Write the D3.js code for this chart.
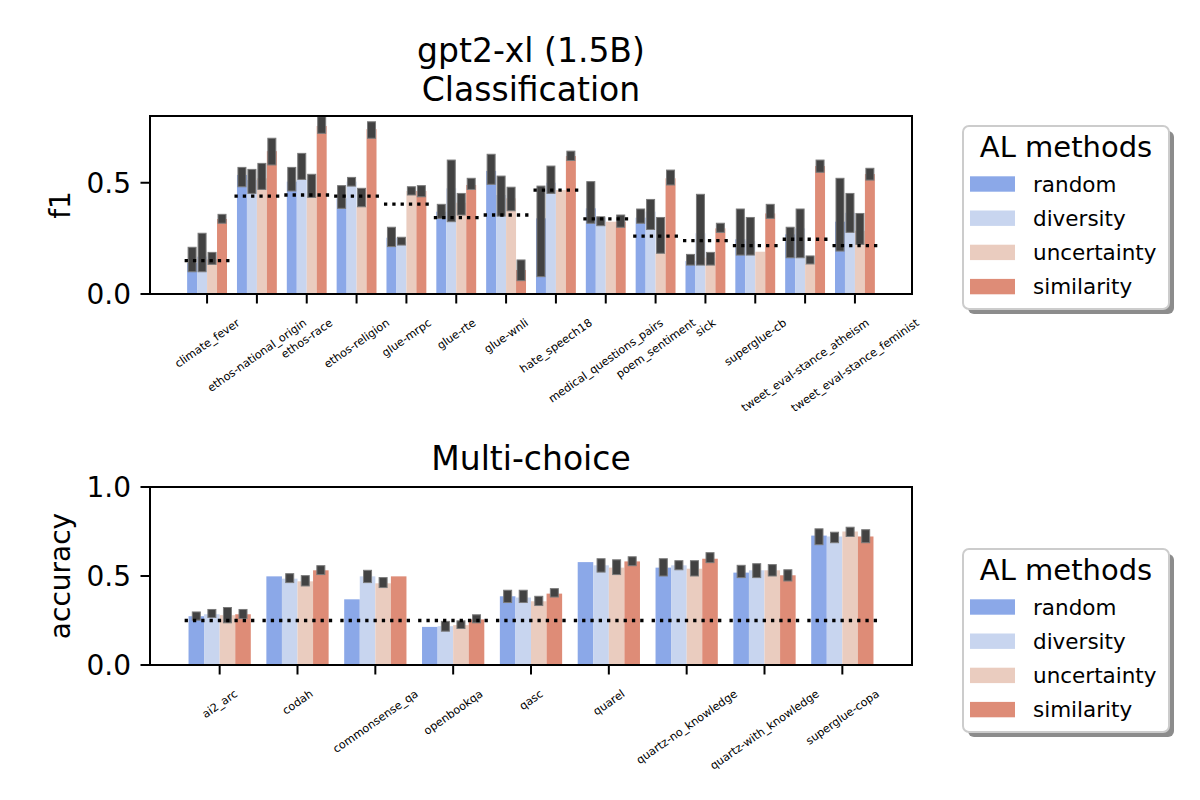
<!DOCTYPE html>
<html>
<head>
<meta charset="utf-8">
<script src="https://cdn.jsdelivr.net/npm/d3@7"></script>
<style>
  body { margin: 0; background: #fff; }
  svg text { font-family: "DejaVu Sans", sans-serif; fill: #000; }
</style>
</head>
<body>
<svg id="chart" width="1200" height="800"></svg>
<script>
// AL methods (legend order)
const methods = ['random', 'diversity', 'uncertainty', 'similarity'];
const methodColors = ['#8ba8e8', '#c8d5ef', '#eaccbf', '#de8c77'];

// Classification panel
const clsTasks = ['climate_fever', 'ethos-national_origin', 'ethos-race', 'ethos-religion', 'glue-mrpc',
  'glue-rte', 'glue-wnli', 'hate_speech18', 'medical_questions_pairs', 'poem_sentiment', 'sick',
  'superglue-cb', 'tweet_eval-stance_atheism', 'tweet_eval-stance_feminist'];
const clsRandom      = [0.139, 0.535, 0.505, 0.43, 0.253, 0.37, 0.553, 0.34, 0.385, 0.343, 0.148, 0.246, 0.268, 0.325];
const clsRandomLo    = [0.10, 0.482, 0.463, 0.385, 0.213, 0.34, 0.493, 0.078, 0.318, 0.318, 0.13, 0.175, 0.163, 0.193];
const clsRandomHi    = [0.21, 0.569, 0.569, 0.487, 0.30, 0.403, 0.628, 0.485, 0.505, 0.382, 0.178, 0.382, 0.30, 0.52];
const clsDiversity   = [0.168, 0.512, 0.515, 0.505, 0.235, 0.475, 0.445, 0.50, 0.344, 0.37, 0.273, 0.238, 0.295, 0.365];
const clsDiversityLo = [0.10, 0.452, 0.515, 0.485, 0.22, 0.325, 0.35, 0.452, 0.307, 0.29, 0.13, 0.175, 0.163, 0.277];
const clsDiversityHi = [0.273, 0.56, 0.632, 0.524, 0.255, 0.602, 0.53, 0.575, 0.347, 0.425, 0.448, 0.344, 0.382, 0.452];
const clsUncert      = [0.156, 0.52, 0.44, 0.392, 0.463, 0.41, 0.43, 0.467, 0.325, 0.183, 0.163, 0.19, 0.135, 0.284];
const clsUncertLo    = [0.133, 0.47, 0.434, 0.392, 0.445, 0.355, 0.374, 0.467, 0.325, 0.183, 0.13, 0.19, 0.135, 0.223];
const clsUncertHi    = [0.187, 0.587, 0.538, 0.475, 0.482, 0.452, 0.48, 0.467, 0.325, 0.344, 0.187, 0.19, 0.171, 0.362];
const clsSimilar     = [0.337, 0.642, 0.755, 0.741, 0.463, 0.49, 0.108, 0.62, 0.325, 0.52, 0.295, 0.362, 0.575, 0.539];
const clsSimilarLo   = [0.318, 0.58, 0.722, 0.70, 0.437, 0.47, 0.06, 0.60, 0.30, 0.49, 0.277, 0.34, 0.547, 0.512];
const clsSimilarHi   = [0.358, 0.70, 0.797, 0.774, 0.487, 0.52, 0.153, 0.642, 0.355, 0.557, 0.318, 0.403, 0.602, 0.565];
const clsBaseline    = [0.15, 0.44, 0.445, 0.44, 0.404, 0.343, 0.355, 0.467, 0.338, 0.26, 0.24, 0.217, 0.246, 0.217];
const clsYTicks = [0.0, 0.5];

// Multi-choice panel
const mcTasks = ['ai2_arc', 'codah', 'commonsense_qa', 'openbookqa', 'qasc', 'quarel',
  'quartz-no_knowledge', 'quartz-with_knowledge', 'superglue-copa'];
const mcRandom      = [0.274, 0.498, 0.369, 0.214, 0.386, 0.578, 0.547, 0.519, 0.727];
const mcRandomLo    = [0.252, 0.498, 0.369, 0.214, 0.351, 0.578, 0.50, 0.491, 0.676];
const mcRandomHi    = [0.298, 0.498, 0.369, 0.214, 0.42, 0.578, 0.597, 0.56, 0.765];
const mcDiversity   = [0.285, 0.485, 0.498, 0.218, 0.379, 0.56, 0.56, 0.532, 0.722];
const mcDiversityLo = [0.267, 0.463, 0.463, 0.19, 0.351, 0.522, 0.535, 0.491, 0.687];
const mcDiversityHi = [0.312, 0.513, 0.532, 0.245, 0.42, 0.597, 0.586, 0.569, 0.746];
const mcUncert      = [0.28, 0.47, 0.459, 0.224, 0.358, 0.547, 0.541, 0.532, 0.75];
const mcUncertLo    = [0.237, 0.444, 0.435, 0.205, 0.334, 0.508, 0.50, 0.50, 0.722];
const mcUncertHi    = [0.323, 0.502, 0.491, 0.248, 0.386, 0.591, 0.586, 0.564, 0.774];
const mcSimilar     = [0.285, 0.532, 0.498, 0.256, 0.401, 0.582, 0.597, 0.504, 0.722];
const mcSimilarLo   = [0.261, 0.508, 0.498, 0.237, 0.382, 0.558, 0.575, 0.472, 0.687];
const mcSimilarHi   = [0.312, 0.558, 0.498, 0.282, 0.429, 0.608, 0.631, 0.535, 0.76];
const mcBaseline    = [0.25, 0.25, 0.25, 0.25, 0.25, 0.25, 0.25, 0.25, 0.25];
const mcYTicks = [0.0, 0.5, 1.0];

const svg = d3.select('#chart');

// title lines
svg.append('text').attr('x', 531).attr('y', 62).attr('text-anchor', 'middle')
  .style('font-size', '33px').text('gpt2-xl (1.5B)');
svg.append('text').attr('x', 531).attr('y', 101).attr('text-anchor', 'middle')
  .style('font-size', '33px').text('Classification');
svg.append('text').attr('x', 531).attr('y', 470).attr('text-anchor', 'middle')
  .style('font-size', '33px').text('Multi-choice');

function drawPanel(opt) {
  const { top, bottom, tasks, series, baseline, yMax, yTicks, yLabel } = opt;
  const left = 150, right = 912;
  const n = tasks.length;

  // matplotlib style x margins around the data extent
  const lo = -0.45, hi = n - 1 + 0.45, m = 0.05 * (hi - lo);
  const x = d3.scaleLinear().domain([lo - m, hi + m]).range([left, right]);
  const y = d3.scaleLinear().domain([0, yMax]).range([bottom, top]);
  const bw = x(0.2) - x(0);

  const g = svg.append('g');

  // bars
  series.forEach((s, k) => {
    g.selectAll(null).data(s.mean).join('rect')
      .attr('x', (d, i) => x(i - 0.4 + 0.2 * k))
      .attr('width', bw)
      .attr('y', d => y(d))
      .attr('height', d => bottom - y(d))
      .attr('fill', methodColors[k]);
  });

  // error bars (thick dark strokes)
  series.forEach((s, k) => {
    s.mean.forEach((d, i) => {
      if (s.hi[i] - s.lo[i] < 0.002) return;
      g.append('rect')
        .attr('x', x(i - 0.3 + 0.2 * k) - 4)
        .attr('width', 8)
        .attr('y', y(s.hi[i]))
        .attr('height', y(s.lo[i]) - y(s.hi[i]))
        .attr('fill', '#424242')
        .attr('stroke', '#7a7a7a')
        .attr('stroke-width', 1);
    });
  });

  // dotted baseline per task
  baseline.forEach((b, i) => {
    g.append('line')
      .attr('x1', x(i - 0.45)).attr('x2', x(i + 0.45))
      .attr('y1', y(b)).attr('y2', y(b))
      .attr('stroke', '#000').attr('stroke-width', 3.3)
      .attr('stroke-dasharray', '3.3,5');
  });

  // frame
  g.append('rect').attr('x', left).attr('y', top)
    .attr('width', right - left).attr('height', bottom - top)
    .attr('fill', 'none').attr('stroke', '#000').attr('stroke-width', 2);

  // y axis
  yTicks.forEach(t => {
    g.append('line').attr('x1', left - 9.5).attr('x2', left)
      .attr('y1', y(t)).attr('y2', y(t)).attr('stroke', '#000').attr('stroke-width', 2);
    g.append('text').attr('x', left - 19).attr('y', y(t)).attr('dy', '0.36em')
      .attr('text-anchor', 'end').style('font-size', '28px').text(d3.format('.1f')(t));
  });
  g.append('text')
    .attr('transform', `translate(70,${(top + bottom) / 2}) rotate(-90)`)
    .attr('text-anchor', 'middle').style('font-size', '28px').text(yLabel);

  // x ticks + rotated labels (bbox centred on tick, top aligned)
  const ang = 35 * Math.PI / 180;
  const fh = 13;
  tasks.forEach((t, i) => {
    g.append('line').attr('x1', x(i)).attr('x2', x(i))
      .attr('y1', bottom).attr('y2', bottom + 9.5).attr('stroke', '#000').attr('stroke-width', 2);
    const lab = g.append('text')
      .attr('text-anchor', 'middle').attr('dy', '0.35em')
      .style('font-size', '11.2px').text(t);
    const w = lab.node().getComputedTextLength();
    const H = w * Math.sin(ang) + fh * Math.cos(ang);
    const cy = bottom + 22 + H / 2;
    lab.attr('transform', `translate(${x(i)},${cy}) rotate(-35)`);
  });
}

function drawLegend(top) {
  const lx = 963, lw = 206, lh = 183;
  const lg = svg.append('g');
  lg.append('rect').attr('x', lx + 5).attr('y', top + 5).attr('width', lw).attr('height', lh)
    .attr('rx', 6).attr('fill', '#8c8c8c');
  lg.append('rect').attr('x', lx).attr('y', top).attr('width', lw).attr('height', lh)
    .attr('rx', 6).attr('fill', '#fff').attr('stroke', '#cccccc').attr('stroke-width', 2);
  lg.append('text').attr('x', lx + lw / 2).attr('y', top + 31).attr('text-anchor', 'middle')
    .style('font-size', '29px').text('AL methods');
  methods.forEach((name, k) => {
    const cy = top + 58 + k * 34.2;
    lg.append('rect').attr('x', lx + 7).attr('y', cy - 7.7).attr('width', 45).attr('height', 15.4)
      .attr('fill', methodColors[k]);
    lg.append('text').attr('x', lx + 70).attr('y', cy).attr('dy', '0.35em')
      .style('font-size', '21.5px').text(name);
  });
}

drawPanel({
  top: 116, bottom: 294, tasks: clsTasks, yMax: 0.8, yTicks: clsYTicks, yLabel: 'f1',
  baseline: clsBaseline,
  series: [
    { mean: clsRandom, lo: clsRandomLo, hi: clsRandomHi },
    { mean: clsDiversity, lo: clsDiversityLo, hi: clsDiversityHi },
    { mean: clsUncert, lo: clsUncertLo, hi: clsUncertHi },
    { mean: clsSimilar, lo: clsSimilarLo, hi: clsSimilarHi }
  ]
});

drawPanel({
  top: 487, bottom: 665, tasks: mcTasks, yMax: 1.0, yTicks: mcYTicks, yLabel: 'accuracy',
  baseline: mcBaseline,
  series: [
    { mean: mcRandom, lo: mcRandomLo, hi: mcRandomHi },
    { mean: mcDiversity, lo: mcDiversityLo, hi: mcDiversityHi },
    { mean: mcUncert, lo: mcUncertLo, hi: mcUncertHi },
    { mean: mcSimilar, lo: mcSimilarLo, hi: mcSimilarHi }
  ]
});

drawLegend(126);
drawLegend(549);
</script>
</body>
</html>
